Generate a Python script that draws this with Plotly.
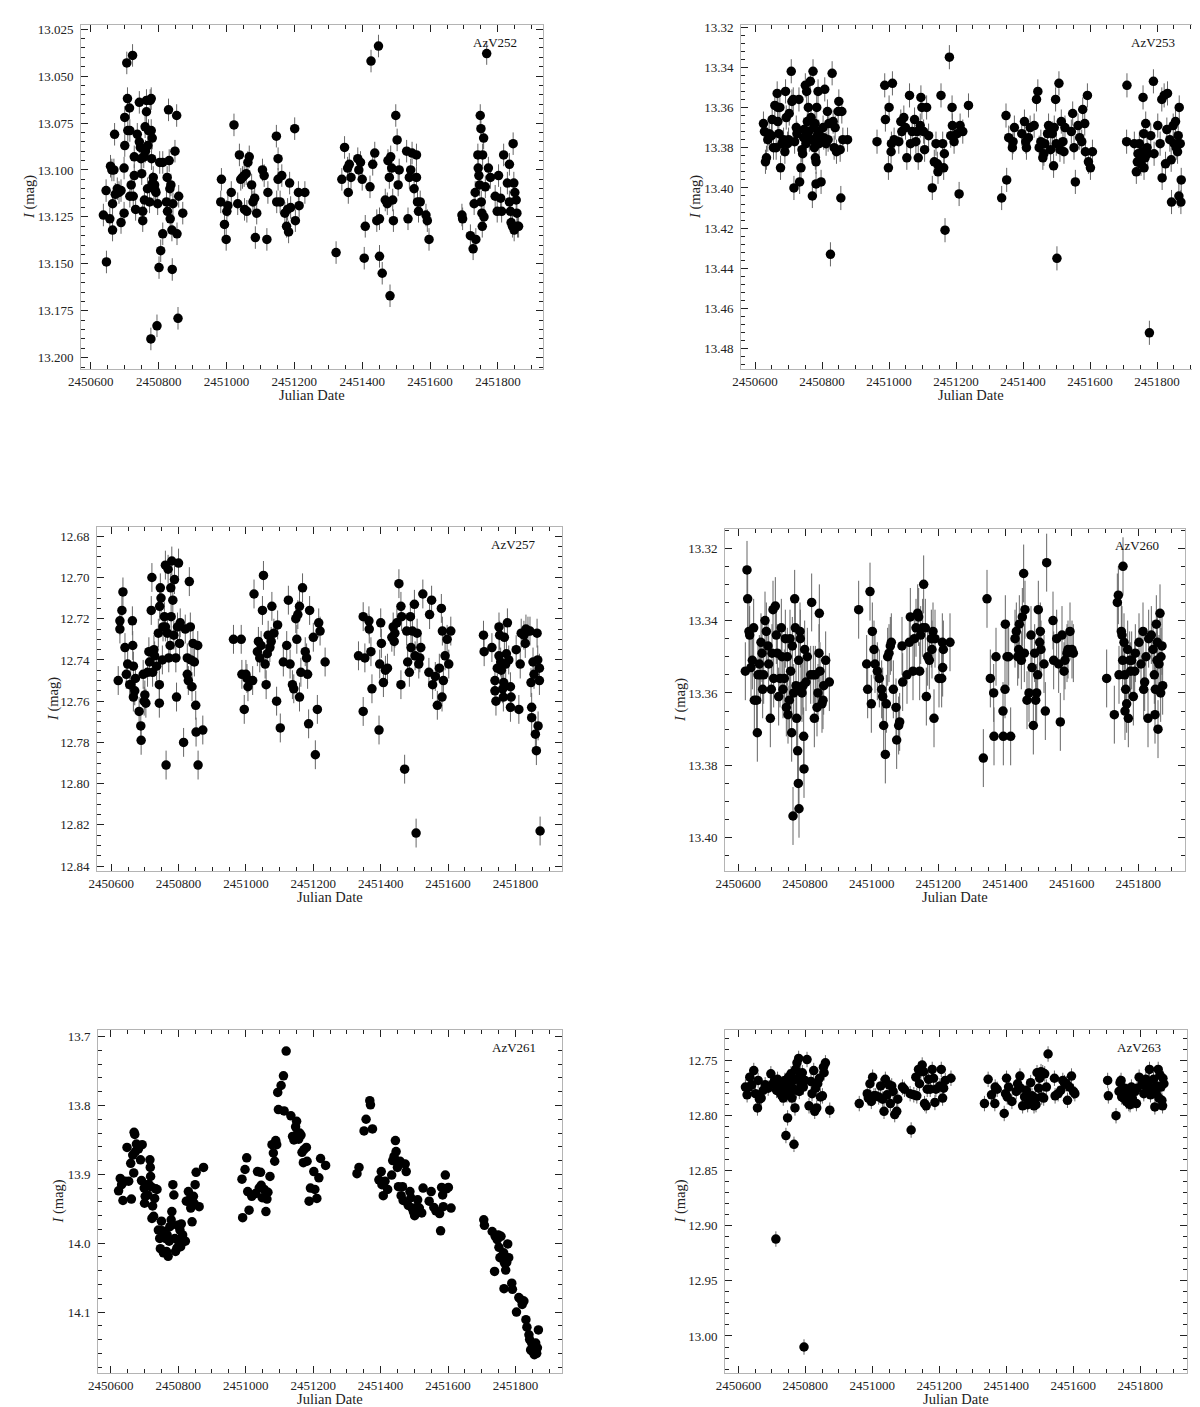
import plotly.graph_objects as go

W, H = 1200, 1407
JD0 = 2450000  # dates below are JD - 2450000

# ---------------- AzV252 ----------------
jd_252 = [
    637, 646, 645, 656, 658, 664, 664, 662, 668, 670, 672, 678, 683, 689, 689, 698, 698, 700, 700, 706,
    708, 709, 714, 715, 715, 719, 723, 725, 728, 728, 732, 737, 743, 743, 746, 748, 750, 753, 753, 756,
    758, 760, 761, 764, 764, 767, 768, 770, 773, 775, 777, 778, 778, 779, 781, 782, 784, 786, 788, 790,
    792, 795, 797, 801, 803, 806, 812, 812, 823, 825, 826, 829, 831, 833, 834, 836, 839, 840, 842, 848,
    853, 854, 857, 859, 871,
    983, 985, 994, 999, 1001, 1004, 1014, 1022, 1033, 1038, 1042, 1047, 1052, 1053, 1058, 1060, 1063, 1067, 1074, 1078,
    1083, 1085, 1089, 1106, 1111, 1119, 1122, 1147, 1148, 1152, 1152, 1158, 1163, 1172, 1177, 1180, 1183, 1186, 1189, 1201,
    1203, 1212, 1214, 1231,
    1323, 1340, 1348, 1357, 1359, 1362, 1367, 1387, 1390, 1395, 1400, 1406, 1409, 1423, 1426, 1431, 1437, 1443, 1448, 1451,
    1451, 1459, 1468, 1474, 1476, 1480, 1482, 1484, 1487, 1490, 1492, 1499, 1503, 1506, 1509, 1531, 1535, 1539, 1543, 1547,
    1553, 1560, 1560, 1563, 1566, 1571, 1588, 1592, 1597,
    1694, 1696, 1719, 1727, 1730, 1733, 1735, 1741, 1742, 1744, 1746, 1748, 1750, 1751, 1753, 1754, 1755, 1758, 1759, 1763,
    1767, 1772, 1778, 1792, 1798, 1802, 1808, 1811, 1817, 1828, 1834, 1834, 1837, 1839, 1843, 1845, 1847, 1848, 1850, 1854,
    1856, 1858, 1861,
]
mag_252 = [
    13.124, 13.149, 13.111, 13.126, 13.098, 13.132, 13.118, 13.100, 13.100, 13.081,
    13.113, 13.110, 13.112, 13.128, 13.111, 13.099, 13.123, 13.072, 13.087, 13.043,
    13.062, 13.079, 13.067, 13.079, 13.114, 13.108, 13.039, 13.114, 13.093, 13.103,
    13.121, 13.081, 13.064, 13.085, 13.088, 13.094, 13.102, 13.127, 13.122, 13.093,
    13.116, 13.077, 13.090, 13.069, 13.063, 13.110, 13.087, 13.079, 13.117, 13.063,
    13.190, 13.062, 13.079, 13.094, 13.083, 13.107, 13.104, 13.110, 13.108, 13.111,
    13.112, 13.183, 13.118, 13.152, 13.096, 13.143, 13.134, 13.096, 13.117, 13.104,
    13.122, 13.068, 13.095, 13.110, 13.126, 13.108, 13.132, 13.153, 13.118, 13.090,
    13.071, 13.134, 13.179, 13.114, 13.123,
    13.117, 13.105, 13.129, 13.137, 13.122, 13.119, 13.112, 13.076, 13.118, 13.092,
    13.105, 13.104, 13.103, 13.121, 13.102, 13.122, 13.096, 13.093, 13.108, 13.117,
    13.115, 13.136, 13.123, 13.100, 13.103, 13.137, 13.112, 13.082, 13.117, 13.094,
    13.105, 13.117, 13.103, 13.123, 13.130, 13.121, 13.133, 13.107, 13.120, 13.078,
    13.127, 13.112, 13.119, 13.112,
    13.144, 13.105, 13.088, 13.099, 13.112, 13.097, 13.104, 13.094, 13.100, 13.096,
    13.105, 13.147, 13.130, 13.109, 13.042, 13.097, 13.091, 13.127, 13.034, 13.126,
    13.146, 13.155, 13.116, 13.118, 13.095, 13.104, 13.167, 13.093, 13.099, 13.116,
    13.127, 13.071, 13.084, 13.108, 13.100, 13.090, 13.126, 13.104, 13.100, 13.091,
    13.110, 13.092, 13.104, 13.117, 13.122, 13.117, 13.124, 13.127, 13.137,
    13.124, 13.126, 13.135, 13.142, 13.118, 13.112, 13.137, 13.092, 13.099, 13.103,
    13.108, 13.071, 13.078, 13.117, 13.123, 13.130, 13.092, 13.083, 13.125, 13.109,
    13.038, 13.099, 13.104, 13.114, 13.122, 13.103, 13.115, 13.122, 13.092, 13.107,
    13.097, 13.117, 13.122, 13.128, 13.130, 13.086, 13.107, 13.132, 13.112, 13.116,
    13.123, 13.130, 13.130,
]
err_252 = 0.006

# ---------------- AzV253 ----------------
jd_253 = [
    625, 628, 631, 634, 638, 642, 649, 651, 659, 663, 666, 668, 668, 671, 674, 676, 685, 689, 691, 693,
    697, 702, 708, 710, 714, 716, 718, 723, 725, 731, 733, 737, 740, 742, 746, 750, 754, 756, 759, 762,
    765, 767, 771, 773, 775, 777, 780, 782, 782, 784, 788, 791, 797, 803, 808, 816, 818, 825, 830, 833,
    839, 843, 848, 850, 854, 856, 859, 862, 876,
    655, 680, 700, 745, 752, 760, 770, 779, 786, 790, 805, 812, 820, 836,
    964, 987, 989, 998, 1000, 1006, 1007, 1010, 1015, 1029, 1035, 1038, 1044, 1049, 1053, 1061, 1064, 1069, 1076, 1080,
    1084, 1087, 1093, 1095, 1098, 1103, 1106, 1112, 1118, 1129, 1135, 1140, 1144, 1146, 1155, 1160, 1163, 1165, 1167, 1180,
    1184, 1188, 1189, 1194, 1203, 1209, 1212, 1220, 1237,
    1336, 1349, 1351, 1357, 1368, 1370, 1374, 1396, 1404, 1408, 1410, 1416, 1421, 1433, 1440, 1444, 1448, 1453, 1459, 1462,
    1465, 1473, 1476, 1482, 1487, 1491, 1493, 1497, 1499, 1501, 1507, 1510, 1514, 1519, 1522, 1525, 1544, 1548, 1552, 1556,
    1564, 1569, 1575, 1578, 1584, 1586, 1592, 1595, 1601, 1607,
    1709, 1710, 1732, 1738, 1741, 1743, 1747, 1749, 1752, 1755, 1758, 1760, 1761, 1764, 1766, 1770, 1772, 1777, 1781, 1789,
    1791, 1802, 1809, 1814, 1815, 1821, 1825, 1829, 1831, 1838, 1842, 1843, 1848, 1851, 1855, 1857, 1861, 1863, 1865, 1866,
    1869, 1871, 1872,
]
mag_253 = [
    13.368, 13.372, 13.387, 13.385, 13.376, 13.373, 13.374, 13.366, 13.359, 13.380,
    13.353, 13.360, 13.367, 13.373, 13.360, 13.390, 13.376, 13.382, 13.352, 13.365,
    13.378, 13.363, 13.342, 13.357, 13.356, 13.400, 13.377, 13.370, 13.373, 13.356,
    13.397, 13.390, 13.381, 13.383, 13.371, 13.349, 13.352, 13.367, 13.360, 13.376,
    13.347, 13.365, 13.404, 13.342, 13.370, 13.380, 13.385, 13.387, 13.398, 13.360,
    13.352, 13.378, 13.397, 13.370, 13.351, 13.362, 13.376, 13.433, 13.343, 13.367,
    13.370, 13.382, 13.362, 13.357, 13.381, 13.405, 13.362, 13.376, 13.376,
    13.380, 13.378, 13.376, 13.375, 13.378, 13.372, 13.376, 13.368, 13.374, 13.372,
    13.375, 13.378, 13.368, 13.380,
    13.377, 13.349, 13.366, 13.390, 13.360, 13.382, 13.378, 13.348, 13.376, 13.377,
    13.367, 13.372, 13.365, 13.370, 13.385, 13.354, 13.378, 13.372, 13.366, 13.377,
    13.372, 13.385, 13.369, 13.355, 13.360, 13.372, 13.381, 13.360, 13.374, 13.400,
    13.387, 13.378, 13.388, 13.392, 13.354, 13.378, 13.390, 13.383, 13.421, 13.335,
    13.374, 13.360, 13.369, 13.377, 13.373, 13.403, 13.369, 13.372, 13.359,
    13.405, 13.364, 13.396, 13.375, 13.380, 13.377, 13.370, 13.373, 13.367, 13.377,
    13.380, 13.375, 13.370, 13.369, 13.356, 13.352, 13.380, 13.377, 13.385, 13.383,
    13.378, 13.373, 13.369, 13.381, 13.373, 13.389, 13.370, 13.356, 13.378, 13.435,
    13.348, 13.381, 13.367, 13.377, 13.382, 13.370, 13.372, 13.363, 13.380, 13.397,
    13.369, 13.375, 13.377, 13.361, 13.368, 13.382, 13.354, 13.387, 13.390, 13.382,
    13.377, 13.349, 13.378, 13.392, 13.387, 13.383, 13.378, 13.386, 13.388, 13.382,
    13.355, 13.373, 13.390, 13.385, 13.368, 13.380, 13.383, 13.472, 13.374, 13.347,
    13.383, 13.369, 13.378, 13.356, 13.395, 13.354, 13.388, 13.371, 13.353, 13.376,
    13.386, 13.407, 13.369, 13.378, 13.367, 13.380, 13.382, 13.374, 13.404, 13.360,
    13.378, 13.407, 13.396,
]
err_253 = 0.006

# ---------------- AzV257 ----------------
jd_257 = [
    621, 626, 626, 632, 635, 641, 645, 649, 655, 658, 663, 664, 666, 666, 670, 672, 683, 688, 689, 695,
    698, 700, 703, 708, 712, 714, 719, 721, 723, 727, 729, 735, 740, 743, 743, 744, 746, 748, 752, 754,
    758, 761, 761, 763, 767, 769, 771, 775, 777, 778, 780, 783, 786, 788, 792, 794, 797, 800, 803, 805,
    815, 820, 826, 826, 829, 832, 835, 837, 840, 843, 847, 851, 852, 857, 858, 872,
    963, 986, 988, 995, 1000, 1003, 1006, 1020, 1024, 1034, 1037, 1041, 1045, 1049, 1052, 1057, 1060, 1063, 1066, 1071,
    1075, 1077, 1083, 1091, 1094, 1102, 1111, 1121, 1126, 1131, 1138, 1142, 1148, 1151, 1154, 1159, 1159, 1163, 1168, 1176,
    1180, 1183, 1186, 1189, 1200, 1206, 1212, 1216, 1220, 1235,
    1334, 1348, 1348, 1353, 1365, 1366, 1371, 1374, 1395, 1397, 1400, 1402, 1408, 1414, 1420, 1433, 1437, 1440, 1442, 1448,
    1454, 1460, 1460, 1462, 1471, 1477, 1480, 1485, 1488, 1490, 1494, 1500, 1502, 1505, 1508, 1513, 1516, 1519, 1525, 1543,
    1545, 1551, 1554, 1562, 1568, 1574, 1580, 1582, 1583, 1586, 1591, 1597, 1602, 1608,
    1705, 1707, 1730, 1739, 1739, 1742, 1746, 1751, 1751, 1753, 1756, 1758, 1762, 1764, 1765, 1767, 1771, 1773, 1776, 1780,
    1785, 1785, 1787, 1802, 1810, 1814, 1817, 1825, 1829, 1831, 1837, 1843, 1846, 1848, 1848, 1852, 1855, 1859, 1862, 1864,
    1866, 1867, 1871, 1871, 1873,
]
mag_257 = [
    12.750, 12.721, 12.725, 12.716, 12.707, 12.734, 12.747, 12.742, 12.752, 12.752,
    12.721, 12.733, 12.743, 12.758, 12.755, 12.749, 12.765, 12.772, 12.779, 12.747,
    12.760, 12.757, 12.761, 12.746, 12.736, 12.741, 12.716, 12.700, 12.746, 12.735,
    12.738, 12.743, 12.727, 12.752, 12.761, 12.714, 12.705, 12.710, 12.740, 12.724,
    12.719, 12.694, 12.724, 12.791, 12.727, 12.696, 12.739, 12.733, 12.705, 12.719,
    12.692, 12.711, 12.728, 12.701, 12.739, 12.758, 12.724, 12.693, 12.732, 12.722,
    12.780, 12.725, 12.739, 12.747, 12.750, 12.702, 12.724, 12.740, 12.753, 12.732,
    12.741, 12.762, 12.775, 12.733, 12.791, 12.774,
    12.730, 12.730, 12.747, 12.764, 12.747, 12.749, 12.753, 12.750, 12.708, 12.736,
    12.731, 12.739, 12.733, 12.716, 12.699, 12.742, 12.752, 12.737, 12.728, 12.734,
    12.731, 12.714, 12.727, 12.760, 12.723, 12.773, 12.741, 12.733, 12.711, 12.742,
    12.752, 12.754, 12.720, 12.730, 12.718, 12.714, 12.758, 12.746, 12.705, 12.736,
    12.739, 12.747, 12.771, 12.716, 12.729, 12.786, 12.764, 12.722, 12.726, 12.741,
    12.738, 12.719, 12.765, 12.739, 12.721, 12.725, 12.736, 12.754, 12.774, 12.742,
    12.722, 12.732, 12.751, 12.745, 12.744, 12.729, 12.724, 12.731, 12.727, 12.722,
    12.703, 12.714, 12.752, 12.719, 12.793, 12.726, 12.741, 12.746, 12.719, 12.734,
    12.726, 12.713, 12.738, 12.824, 12.727, 12.742, 12.739, 12.734, 12.708, 12.746,
    12.718, 12.711, 12.752, 12.748, 12.762, 12.744, 12.715, 12.758, 12.726, 12.750,
    12.738, 12.730, 12.742, 12.726,
    12.728, 12.736, 12.734, 12.750, 12.755, 12.760, 12.744, 12.724, 12.738, 12.728,
    12.741, 12.745, 12.754, 12.758, 12.751, 12.729, 12.742, 12.737, 12.722, 12.740,
    12.753, 12.763, 12.758, 12.735, 12.764, 12.742, 12.727, 12.728, 12.732, 12.725,
    12.726, 12.726, 12.751, 12.763, 12.768, 12.741, 12.747, 12.776, 12.784, 12.727,
    12.740, 12.772, 12.750, 12.744, 12.823,
]
err_257 = 0.007

# ---------------- AzV260 ----------------
jd_260 = [
    621, 626, 628, 632, 634, 638, 642, 646, 648, 655, 657, 659, 663, 666, 668, 671, 673, 676, 680, 684,
    689, 691, 696, 699, 701, 704, 706, 711, 714, 717, 721, 725, 729, 731, 734, 738, 741, 744, 747, 749,
    753, 755, 757, 760, 762, 764, 766, 769, 771, 773, 775, 778, 780, 781, 782, 785, 786, 788, 791, 794,
    796, 797, 799, 803, 807, 817, 820, 825, 828, 831, 836, 839, 842, 843, 845, 851, 854, 856, 862, 873,
    961, 985, 988, 995, 999, 1002, 1007, 1010, 1017, 1023, 1030, 1033, 1036, 1041, 1044, 1048, 1052, 1056, 1059, 1065,
    1073, 1075, 1081, 1084, 1091, 1093, 1106, 1113, 1116, 1124, 1128, 1133, 1138, 1141, 1144, 1147, 1153, 1156, 1161, 1164,
    1168, 1173, 1179, 1181, 1184, 1187, 1190, 1202, 1210, 1212, 1213, 1215, 1235,
    1335, 1346, 1356, 1366, 1367, 1373, 1394, 1395, 1400, 1401, 1406, 1411, 1417, 1430, 1434, 1438, 1441, 1443, 1449, 1452,
    1456, 1458, 1460, 1466, 1472, 1478, 1481, 1485, 1489, 1492, 1495, 1498, 1500, 1504, 1506, 1508, 1517, 1521, 1525, 1544,
    1546, 1555, 1561, 1566, 1571, 1577, 1580, 1586, 1589, 1595, 1601, 1605,
    1705, 1728, 1737, 1740, 1742, 1749, 1751, 1753, 1754, 1757, 1759, 1760, 1762, 1765, 1768, 1770, 1774, 1777, 1780, 1785,
    1789, 1791, 1802, 1808, 1814, 1816, 1819, 1823, 1829, 1831, 1839, 1844, 1848, 1850, 1851, 1854, 1856, 1857, 1859, 1862,
    1865, 1867, 1868, 1871, 1873,
]
mag_260 = [
    13.354, 13.326, 13.334, 13.343, 13.344, 13.353, 13.351, 13.342, 13.362, 13.362,
    13.371, 13.355, 13.352, 13.355, 13.346, 13.349, 13.359, 13.355, 13.340, 13.343,
    13.347, 13.352, 13.367, 13.359, 13.349, 13.337, 13.356, 13.336, 13.344, 13.349,
    13.361, 13.356, 13.342, 13.350, 13.359, 13.356, 13.345, 13.364, 13.350, 13.366,
    13.362, 13.345, 13.354, 13.371, 13.347, 13.394, 13.360, 13.334, 13.342, 13.358,
    13.367, 13.376, 13.385, 13.351, 13.392, 13.343, 13.345, 13.359, 13.360, 13.358,
    13.372, 13.381, 13.348, 13.357, 13.350, 13.355, 13.335, 13.355, 13.367, 13.355,
    13.364, 13.360, 13.349, 13.338, 13.354, 13.363, 13.362, 13.358, 13.351, 13.357,
    13.337, 13.352, 13.359, 13.332, 13.363, 13.343, 13.348, 13.352, 13.354, 13.356,
    13.359, 13.361, 13.369, 13.377, 13.363, 13.350, 13.349, 13.347, 13.346, 13.359,
    13.364, 13.373, 13.369, 13.368, 13.347, 13.357, 13.355, 13.346, 13.339, 13.354,
    13.345, 13.342, 13.338, 13.339, 13.354, 13.344, 13.342, 13.330, 13.342, 13.361,
    13.350, 13.351, 13.345, 13.348, 13.343, 13.367, 13.345, 13.356, 13.356, 13.346,
    13.353, 13.348, 13.346,
    13.378, 13.334, 13.356, 13.360, 13.372, 13.350, 13.365, 13.372, 13.359, 13.341,
    13.350, 13.350, 13.372, 13.345, 13.343, 13.350, 13.348, 13.341, 13.351, 13.339,
    13.327, 13.349, 13.337, 13.362, 13.360, 13.344, 13.353, 13.369, 13.349, 13.362,
    13.360, 13.355, 13.337, 13.346, 13.343, 13.348, 13.352, 13.365, 13.324, 13.340,
    13.351, 13.345, 13.352, 13.368, 13.344, 13.354, 13.351, 13.349, 13.348, 13.343,
    13.348, 13.349,
    13.356, 13.366, 13.335, 13.333, 13.355, 13.343, 13.344, 13.351, 13.325, 13.346,
    13.355, 13.365, 13.359, 13.363, 13.348, 13.367, 13.351, 13.354, 13.351, 13.361,
    13.354, 13.349, 13.346, 13.352, 13.343, 13.359, 13.357, 13.350, 13.367, 13.345,
    13.344, 13.348, 13.355, 13.366, 13.359, 13.341, 13.351, 13.346, 13.370, 13.352,
    13.338, 13.360, 13.350, 13.347, 13.358,
]
err_260 = 0.008

# ---------------- AzV261 ----------------
jd_261 = [
    623, 628, 632, 636, 642, 648, 653, 659, 661, 665, 668, 669, 671, 673, 676, 682, 688, 691, 693, 699,
    700, 702, 707, 710, 713, 716, 717, 718, 719, 722, 724, 727, 730, 733, 737, 741, 745, 747, 750, 752,
    756, 758, 762, 765, 767, 770, 773, 775, 779, 781, 784, 787, 790, 792, 796, 798, 801, 805, 807, 809,
    813, 816, 821, 824, 830, 833, 837, 841, 845, 847, 850, 853, 862, 875,
    989, 991, 998, 1003, 1006, 1010, 1018, 1029, 1035, 1040, 1044, 1046, 1049, 1055, 1060, 1063, 1066, 1072, 1078, 1082,
    1086, 1089, 1092, 1095, 1097, 1105, 1112, 1114, 1120, 1134, 1139, 1143, 1148, 1151, 1154, 1157, 1160, 1164, 1167, 1171,
    1173, 1180, 1182, 1188, 1192, 1202, 1205, 1211, 1217, 1222, 1237,
    1330, 1336, 1351, 1357, 1368, 1370, 1376, 1395, 1402, 1404, 1408, 1413, 1421, 1433, 1436, 1440, 1444, 1446, 1450, 1453,
    1458, 1461, 1465, 1467, 1473, 1476, 1482, 1487, 1490, 1493, 1498, 1501, 1507, 1510, 1515, 1522, 1526, 1544, 1550, 1558,
    1564, 1575, 1578, 1581, 1584, 1586, 1592, 1595, 1601, 1609,
    1706, 1708, 1731, 1738, 1740, 1746, 1749, 1751, 1754, 1757, 1759, 1763, 1765, 1766, 1768, 1771, 1774, 1777, 1780, 1789,
    1791, 1803, 1810, 1816, 1820, 1825, 1831, 1834, 1840, 1842, 1845, 1848, 1850, 1854, 1856, 1858, 1860, 1863, 1865, 1868,
]
mag_261 = [
    13.924, 13.906, 13.915, 13.938, 13.910, 13.861, 13.910, 13.884, 13.936, 13.872,
    13.898, 13.839, 13.842, 13.867, 13.856, 13.863, 13.879, 13.909, 13.857, 13.920,
    13.942, 13.932, 13.915, 13.930, 13.915, 13.879, 13.890, 13.903, 13.918, 13.964,
    13.946, 13.961, 13.935, 13.921, 13.922, 13.981, 13.993, 14.008, 13.968, 13.982,
    14.014, 13.983, 13.993, 14.012, 13.988, 14.019, 13.997, 13.976, 13.966, 13.954,
    13.915, 13.930, 13.993, 14.012, 14.007, 13.974, 13.997, 13.981, 14.005, 13.972,
    13.988, 13.997, 13.997, 13.939, 13.925, 13.937, 13.949, 13.969, 13.932, 13.942,
    13.915, 13.897, 13.947, 13.890,
    13.907, 13.963, 13.893, 13.876, 13.925, 13.952, 13.932, 13.928, 13.896, 13.920,
    13.897, 13.916, 13.934, 13.922, 13.954, 13.936, 13.926, 13.903, 13.857, 13.869,
    13.881, 13.851, 13.857, 13.781, 13.806, 13.771, 13.757, 13.808, 13.721, 13.815,
    13.845, 13.850, 13.831, 13.823, 13.840, 13.849, 13.840, 13.843, 13.868, 13.883,
    13.864, 13.861, 13.881, 13.939, 13.920, 13.896, 13.922, 13.935, 13.905, 13.877,
    13.887,
    13.899, 13.890, 13.837, 13.820, 13.793, 13.799, 13.834, 13.908, 13.896, 13.915,
    13.931, 13.910, 13.922, 13.901, 13.880, 13.874, 13.851, 13.867, 13.890, 13.918,
    13.881, 13.931, 13.918, 13.938, 13.885, 13.896, 13.945, 13.925, 13.934, 13.949,
    13.955, 13.960, 13.948, 13.937, 13.949, 13.956, 13.920, 13.939, 13.925, 13.948,
    13.953, 13.957, 13.982, 13.919, 13.930, 13.947, 13.901, 13.921, 13.919, 13.949,
    13.966, 13.974, 13.983, 14.041, 13.990, 13.995, 13.988, 14.006, 14.021, 13.990,
    14.019, 14.023, 14.014, 14.066, 14.029, 14.039, 14.028, 14.001, 14.021, 14.058,
    14.067, 14.100, 14.079, 14.082, 14.089, 14.084, 14.111, 14.122, 14.133, 14.140,
    14.155, 14.145, 14.157, 14.150, 14.162, 14.155, 14.145, 14.160, 14.152, 14.126,
]
err_261 = 0.006

# ---------------- AzV263 ----------------
jd_263 = [
    621, 626, 631, 634, 640, 646, 651, 657, 659, 663, 668, 674, 680, 689, 697, 703, 708, 712, 714, 717,
    721, 725, 728, 731, 734, 737, 739, 742, 745, 747, 748, 750, 753, 755, 757, 760, 762, 764, 766, 769,
    771, 773, 775, 778, 780, 782, 785, 787, 791, 794, 796, 799, 805, 811, 817, 820, 825, 828, 831, 834,
    837, 842, 845, 851, 854, 856, 860, 873,
    961, 985, 988, 993, 997, 1001, 1005, 1010, 1019, 1025, 1031, 1035, 1039, 1044, 1050, 1054, 1058, 1062, 1067, 1073,
    1076, 1090, 1096, 1113, 1116, 1124, 1130, 1133, 1138, 1141, 1145, 1149, 1153, 1156, 1161, 1164, 1168, 1173, 1179, 1183,
    1187, 1190, 1202, 1206, 1210, 1213, 1218, 1235,
    1335, 1346, 1356, 1366, 1367, 1373, 1394, 1398, 1401, 1403, 1407, 1417, 1430, 1434, 1441, 1443, 1449, 1455, 1460, 1464,
    1470, 1473, 1477, 1483, 1487, 1489, 1492, 1497, 1500, 1504, 1506, 1509, 1512, 1515, 1520, 1525, 1544, 1546, 1555, 1563,
    1569, 1574, 1580, 1583, 1589, 1595, 1601, 1605,
    1703, 1705, 1728, 1737, 1740, 1743, 1745, 1749, 1751, 1754, 1757, 1759, 1762, 1766, 1768, 1770, 1774, 1777, 1779, 1785,
    1789, 1791, 1797, 1806, 1808, 1811, 1817, 1822, 1825, 1828, 1831, 1836, 1840, 1844, 1848, 1850, 1854, 1856, 1859, 1862,
    1865, 1867, 1868, 1871,
]
mag_263 = [
    12.774, 12.781, 12.774, 12.765, 12.772, 12.759, 12.780, 12.793, 12.768, 12.785,
    12.784, 12.777, 12.772, 12.775, 12.762, 12.771, 12.768, 12.912, 12.777, 12.767,
    12.778, 12.774, 12.781, 12.771, 12.784, 12.775, 12.768, 12.818, 12.781, 12.802,
    12.774, 12.765, 12.781, 12.771, 12.762, 12.784, 12.775, 12.768, 12.826, 12.793,
    12.758, 12.777, 12.752, 12.766, 12.748, 12.778, 12.762, 12.771, 12.761, 12.774,
    13.010, 12.768, 12.749, 12.791, 12.769, 12.780, 12.759, 12.796, 12.775, 12.793,
    12.771, 12.766, 12.783, 12.782, 12.756, 12.761, 12.752, 12.795,
    12.789, 12.780, 12.784, 12.771, 12.787, 12.765, 12.782, 12.782, 12.783, 12.773,
    12.785, 12.796, 12.767, 12.781, 12.772, 12.789, 12.773, 12.778, 12.799, 12.796,
    12.785, 12.774, 12.776, 12.780, 12.813, 12.781, 12.765, 12.782, 12.758, 12.771,
    12.760, 12.754, 12.760, 12.789, 12.791, 12.776, 12.767, 12.776, 12.758, 12.766,
    12.788, 12.776, 12.773, 12.758, 12.784, 12.775, 12.768, 12.766,
    12.789, 12.767, 12.781, 12.789, 12.774, 12.776, 12.798, 12.780, 12.766, 12.783,
    12.774, 12.787, 12.778, 12.771, 12.764, 12.775, 12.791, 12.783, 12.777, 12.790,
    12.786, 12.770, 12.782, 12.791, 12.784, 12.790, 12.761, 12.775, 12.766, 12.760,
    12.783, 12.761, 12.784, 12.762, 12.774, 12.744, 12.766, 12.782, 12.780, 12.777,
    12.768, 12.770, 12.771, 12.786, 12.774, 12.764, 12.778, 12.780,
    12.768, 12.782, 12.800, 12.778, 12.770, 12.768, 12.783, 12.777, 12.784, 12.775,
    12.782, 12.787, 12.778, 12.789, 12.780, 12.790, 12.774, 12.785, 12.787, 12.778,
    12.789, 12.775, 12.765, 12.771, 12.772, 12.780, 12.767, 12.775, 12.769, 12.758,
    12.781, 12.775, 12.767, 12.792, 12.780, 12.773, 12.758, 12.784, 12.763, 12.774,
    12.786, 12.791, 12.766, 12.771,
]
err_263 = 0.007

SERIF = "Liberation Serif"
FRAME = "#b4b4b4"
TICK = "#222222"

# frame in pixels (left, right, top, bottom), axis ranges, tick settings, y-title x position
panels = [
    dict(name="AzV252", jd=jd_252, mag=mag_252, err=err_252, box=(73, 535, 17, 361),
         xr=(2450571, 2451933), yr=(13.2060, 13.0228), dt=0.025, mdt=0.005, fmt=".3f", ytx=22),
    dict(name="AzV253", jd=jd_253, mag=mag_253, err=err_253, box=(733, 1193, 17, 361),
         xr=(2450558, 2451931), yr=(13.4900, 13.3190), dt=0.02, mdt=0.004, fmt=".2f", ytx=688),
    dict(name="AzV257", jd=jd_257, mag=mag_257, err=err_257, box=(89, 554, 519, 863),
         xr=(2450558, 2451938), yr=(12.8424, 12.6755), dt=0.02, mdt=0.005, fmt=".2f", ytx=45),
    dict(name="AzV260", jd=jd_260, mag=mag_260, err=err_260, box=(717, 1177, 521, 863),
         xr=(2450560, 2451940), yr=(13.4092, 13.3147), dt=0.02, mdt=0.005, fmt=".2f", ytx=672),
    dict(name="AzV261", jd=jd_261, mag=mag_261, err=err_261, box=(90, 554, 1022, 1365),
         xr=(2450562, 2451938), yr=(14.1885, 13.6904), dt=0.1, mdt=0.02, fmt=".1f", ytx=50),
    dict(name="AzV263", jd=jd_263, mag=mag_263, err=err_263, box=(717, 1179, 1022, 1365),
         xr=(2450560, 2451940), yr=(13.0336, 12.7222), dt=0.05, mdt=0.01, fmt=".2f", ytx=672),
]

fig = go.Figure()
annotations = []
layout_axes = {}

for i, p in enumerate(panels, start=1):
    sfx = "" if i == 1 else str(i)
    l, r, t, b = p["box"]
    fig.add_trace(go.Scatter(
        x=[JD0 + d for d in p["jd"]], y=p["mag"],
        mode="markers",
        marker=dict(color="black", size=9.5, line=dict(width=0)),
        error_y=dict(type="constant", value=p["err"], color="#666666", thickness=1, width=0),
        xaxis="x" + sfx, yaxis="y" + sfx, showlegend=False, hoverinfo="skip",
    ))

    common = dict(
        showline=True, linecolor=FRAME, linewidth=1, mirror="ticks",
        ticks="inside", ticklen=7, tickwidth=1, tickcolor=TICK,
        showgrid=False, zeroline=False, automargin=False,
        tickfont=dict(family=SERIF, size=13, color="#222"),
    )
    layout_axes["xaxis" + sfx] = dict(
        common, domain=[l / W, r / W], range=list(p["xr"]), anchor="y" + sfx,
        tick0=2450600, dtick=200, tickformat="d",
        minor=dict(ticks="inside", ticklen=4, tickwidth=1, tickcolor=TICK, dtick=50, tick0=2450600, showgrid=False),
    )
    layout_axes["yaxis" + sfx] = dict(
        common, domain=[1 - b / H, 1 - t / H], range=list(p["yr"]), anchor="x" + sfx,
        tick0=0, dtick=p["dt"], tickformat=p["fmt"], ticklabelstandoff=4,
        minor=dict(ticks="inside", ticklen=4, tickwidth=1, tickcolor=TICK, dtick=p["mdt"], tick0=0, showgrid=False),
    )

    # star name, top-right inside the frame
    annotations.append(dict(
        text=p["name"], xref="paper", yref="paper", x=(r - 24) / W, y=1 - (t + 17) / H,
        xanchor="right", yanchor="middle", showarrow=False,
        font=dict(family=SERIF, size=13, color="#111"),
    ))
    # x-axis title
    annotations.append(dict(
        text="Julian Date", xref="paper", yref="paper", x=(l + r) / 2 / W, y=1 - (b + 26) / H,
        xanchor="center", yanchor="middle", showarrow=False,
        font=dict(family=SERIF, size=14.5, color="#222"),
    ))
    # y-axis title
    annotations.append(dict(
        text="<i>I</i> (mag)", xref="paper", yref="paper", x=p["ytx"] / W, y=1 - (t + b) / 2 / H,
        xanchor="center", yanchor="middle", textangle=-90, showarrow=False,
        font=dict(family=SERIF, size=14.5, color="#222"),
    ))

fig.update_layout(
    width=W, height=H,
    margin=dict(l=0, r=0, t=0, b=0, autoexpand=False),
    paper_bgcolor="white", plot_bgcolor="white",
    annotations=annotations,
    **layout_axes,
)

fig.write_html("out.html")
